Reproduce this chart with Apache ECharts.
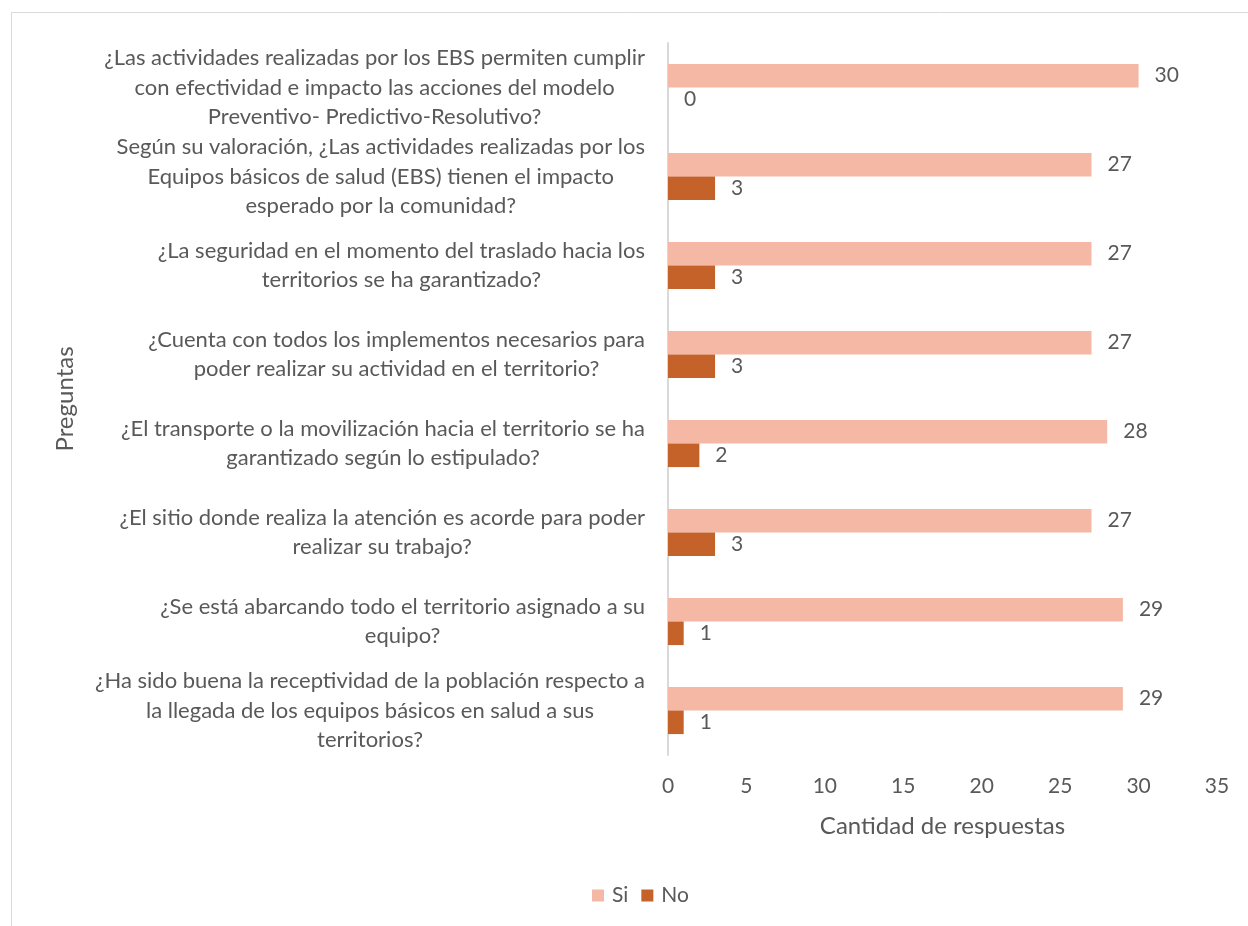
<!DOCTYPE html>
<html>
<head>
<meta charset="utf-8">
<script src="https://cdn.jsdelivr.net/npm/echarts@6/dist/echarts.min.js"></script>
<style>
html,body{margin:0;padding:0;background:#fff;}
#chart{width:1248px;height:926px;}
</style>
</head>
<body>
<div id="chart"></div>
<script>
const categories = [
  "¿Las actividades realizadas por los EBS permiten cumplir\ncon efectividad e impacto las acciones del modelo\nPreventivo- Predictivo-Resolutivo?",
  "Según su valoración, ¿Las actividades realizadas por los\nEquipos básicos de salud (EBS) tienen el impacto\nesperado por la comunidad?",
  "¿La seguridad en el momento del traslado hacia los\nterritorios se ha garantizado?",
  "¿Cuenta con todos los implementos necesarios para\npoder realizar su actividad en el territorio?",
  "¿El transporte o la movilización hacia el territorio se ha\ngarantizado según lo estipulado?",
  "¿El sitio donde realiza la atención es acorde para poder\nrealizar su trabajo?",
  "¿Se está abarcando todo el territorio asignado a su\nequipo?",
  "¿Ha sido buena la receptividad de la población respecto a\nla llegada de los equipos básicos en salud a sus\nterritorios?"
];
const seriesNames = ["Si", "No"];
const siValues = [30, 27, 27, 27, 28, 27, 29, 29];
const noValues = [0, 3, 3, 3, 2, 3, 1, 1];
const xTicks = { min: 0, max: 35, interval: 5 };

const FONT = "Lato";
const TXT = "#595959";

const chart = echarts.init(document.getElementById('chart'));
chart.setOption({
  animation: false,
  textStyle: { fontFamily: FONT, color: TXT },
  graphic: [{
    type: 'rect', silent: true,
    shape: { x: 11.5, y: 12.5, width: 1400, height: 1000 },
    style: { fill: 'none', stroke: '#d9d9d9', lineWidth: 1 }
  }],
  grid: { left: 668, right: 31, top: 43, bottom: 171, containLabel: false },
  legend: {
    data: seriesNames,
    bottom: 15,
    left: 587,
    itemWidth: 12, itemHeight: 12, itemGap: 13,
    icon: 'rect',
    textStyle: { fontFamily: FONT, fontSize: 21, color: TXT, padding: [0,0,0,3] }
  },
  xAxis: {
    type: 'value',
    min: xTicks.min, max: xTicks.max, interval: xTicks.interval,
    axisLine: { show: false }, axisTick: { show: false }, splitLine: { show: false },
    axisLabel: { fontFamily: FONT, fontSize: 21, color: TXT, margin: 21 },
    name: 'Cantidad de respuestas',
    nameLocation: 'middle', nameGap: 59,
    nameTextStyle: { fontFamily: FONT, fontSize: 24, color: TXT }
  },
  yAxis: {
    type: 'category',
    inverse: true,
    data: categories,
    axisLine: { show: true, lineStyle: { color: '#d9d9d9', width: 2 } },
    axisTick: { show: false },
    axisLabel: {
      margin: 23,
      formatter: function (v) {
        return v.split('\n').map(l => '{c|' + l + '}').join('\n');
      },
      rich: { c: { align: 'center', fontFamily: FONT, fontSize: 22, color: TXT, lineHeight: 29.5 } }
    },
    name: 'Preguntas',
    nameLocation: 'middle', nameGap: 591, nameRotate: 90,
    nameTextStyle: { fontFamily: FONT, fontSize: 24, color: TXT }
  },
  series: [
    {
      name: seriesNames[0], type: 'bar', data: siValues,
      barGap: '0%', barCategoryGap: '47%',
      itemStyle: { color: '#F4B8A4' },
      label: { show: true, position: 'right', distance: 16, fontFamily: FONT, fontSize: 21, color: TXT }
    },
    {
      name: seriesNames[1], type: 'bar', data: noValues,
      barGap: '0%', barCategoryGap: '47%',
      itemStyle: { color: '#C4622A' },
      label: { show: true, position: 'right', distance: 16, fontFamily: FONT, fontSize: 21, color: TXT }
    }
  ]
});
</script>
</body>
</html>
